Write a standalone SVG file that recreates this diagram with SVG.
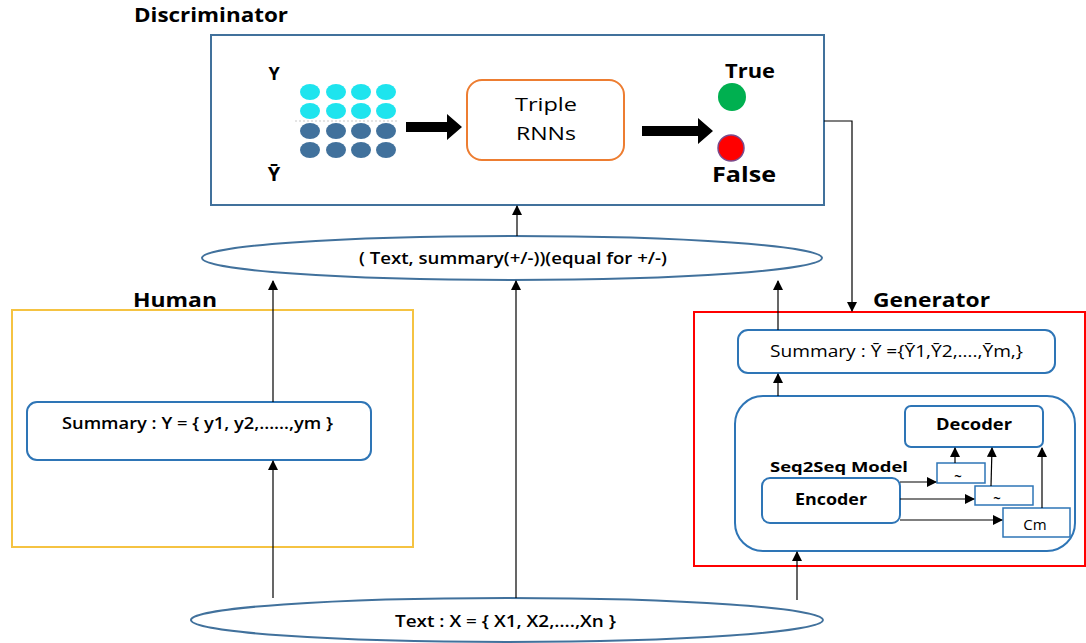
<svg xmlns="http://www.w3.org/2000/svg" width="1086" height="643" viewBox="0 0 1086 643">
<defs>
<style>
.t{font-family:"Open Sans","Liberation Sans",sans-serif;fill:#000}
.b{font-weight:bold}
.box{fill:#fff;stroke:#2E75B6;stroke-width:2}
.ln{stroke:#000;stroke-width:1.2;fill:none}
.cy{fill:#1EE4EE}
.db{fill:#41719C}
</style>
<marker id="ah" markerWidth="10" markerHeight="10" refX="9" refY="5" orient="auto" markerUnits="userSpaceOnUse">
<path d="M0,0 L10,5 L0,10 z" fill="#000"/>
</marker>
</defs>
<rect width="1086" height="643" fill="#fff"/>

<g id="discriminator">
<text class="t b" x="134" y="22" font-size="19" textLength="154" lengthAdjust="spacingAndGlyphs">Discriminator</text>
<rect x="211" y="35" width="613" height="170" fill="#fff" stroke="#41719C" stroke-width="2"/>
<text class="t b" x="274" y="80" font-size="18" text-anchor="middle">Y</text>
<text class="t b" x="274" y="181" font-size="20" text-anchor="middle">Ȳ</text>
<g>
<ellipse class="cy" cx="310" cy="92" rx="10" ry="8"/><ellipse class="cy" cx="336" cy="92" rx="10" ry="8"/><ellipse class="cy" cx="361" cy="92" rx="10" ry="8"/><ellipse class="cy" cx="386" cy="92" rx="10" ry="8"/>
<ellipse class="cy" cx="310" cy="111" rx="10" ry="8"/><ellipse class="cy" cx="336" cy="111" rx="10" ry="8"/><ellipse class="cy" cx="361" cy="111" rx="10" ry="8"/><ellipse class="cy" cx="386" cy="111" rx="10" ry="8"/>
<line x1="295" y1="121" x2="398" y2="121" stroke="#bbb" stroke-width="0.8" stroke-dasharray="2,2"/>
<ellipse class="db" cx="310" cy="131" rx="10" ry="8"/><ellipse class="db" cx="336" cy="131" rx="10" ry="8"/><ellipse class="db" cx="361" cy="131" rx="10" ry="8"/><ellipse class="db" cx="386" cy="131" rx="10" ry="8"/>
<ellipse class="db" cx="310" cy="150" rx="10" ry="8"/><ellipse class="db" cx="336" cy="150" rx="10" ry="8"/><ellipse class="db" cx="361" cy="150" rx="10" ry="8"/><ellipse class="db" cx="386" cy="150" rx="10" ry="8"/>
</g>
<path d="M406,122 L447,122 L447,114 L462,127 L447,140 L447,132 L406,132 z" fill="#000"/>
<path d="M642,126 L698,126 L698,118 L713,131 L698,144 L698,136 L642,136 z" fill="#000"/>
<text class="t b" x="750" y="78" font-size="19" text-anchor="middle" textLength="50" lengthAdjust="spacingAndGlyphs">True</text>
<circle cx="732" cy="97" r="14" fill="#00B050"/>
<circle cx="731" cy="148" r="13" fill="#FF0000" stroke="#7A4A8C" stroke-width="1.5"/>
<text class="t b" x="744" y="182" font-size="21" text-anchor="middle" textLength="64" lengthAdjust="spacingAndGlyphs">False</text>
</g>

<g id="triple-rnns">
<rect x="467" y="80" width="157" height="80" rx="15" fill="#fff" stroke="#ED7D31" stroke-width="2"/>
<text class="t" x="546" y="111" font-size="18" text-anchor="middle" textLength="62" lengthAdjust="spacingAndGlyphs">Triple</text>
<text class="t" x="546" y="140" font-size="18" text-anchor="middle" textLength="60" lengthAdjust="spacingAndGlyphs">RNNs</text>
</g>

<g id="pair-ellipse">
<ellipse cx="512" cy="258" rx="310" ry="22" fill="#fff" stroke="#41719C" stroke-width="2"/>
<text class="t" x="513" y="264" font-size="16" text-anchor="middle" font-weight="600" textLength="308" lengthAdjust="spacingAndGlyphs">( Text, summary(+/-))(equal for +/-)</text>
</g>

<g id="human">
<text class="t b" x="133" y="307" font-size="19" textLength="84" lengthAdjust="spacingAndGlyphs">Human</text>
<rect x="12" y="310" width="401" height="237" fill="none" stroke="#F5C342" stroke-width="2"/>
</g>

<g id="human-summary">
<rect class="box" x="27" y="402" width="344" height="58" rx="10"/>
<text class="t" x="62" y="429" font-size="16" font-weight="600" textLength="271" lengthAdjust="spacingAndGlyphs">Summary : Y = { y1, y2,……,ym }</text>
</g>

<g id="generator">
<text class="t b" x="873" y="307" font-size="19" textLength="117" lengthAdjust="spacingAndGlyphs">Generator</text>
<rect x="694" y="312" width="391" height="254" fill="none" stroke="#FF0000" stroke-width="2"/>
</g>

<g id="gen-summary">
<rect class="box" x="738" y="330" width="317" height="43" rx="10"/>
<text class="t" x="770" y="357" font-size="16" textLength="253" lengthAdjust="spacingAndGlyphs">Summary : Ȳ ={Ȳ1,Ȳ2,….,Ȳm,}</text>
</g>

<g id="seq2seq">
<rect class="box" x="735" y="396" width="340" height="155" rx="28"/>
<text class="t b" x="770" y="472" font-size="15" textLength="138" lengthAdjust="spacingAndGlyphs">Seq2Seq Model</text>
</g>

<g id="decoder">
<rect class="box" x="905" y="406" width="138" height="41" rx="6"/>
<text class="t b" x="974" y="430" font-size="16" text-anchor="middle" textLength="76" lengthAdjust="spacingAndGlyphs">Decoder</text>
</g>

<g id="encoder">
<rect class="box" x="762" y="478" width="138" height="45" rx="8"/>
<text class="t b" x="831" y="505" font-size="16" text-anchor="middle" textLength="72" lengthAdjust="spacingAndGlyphs">Encoder</text>
</g>

<g id="c1">
<rect x="937" y="463" width="48" height="20" fill="#fff" stroke="#2E75B6" stroke-width="1.5"/>
<text class="t b" x="958" y="481" font-size="13" text-anchor="middle">~</text>
</g>
<g id="c2">
<rect x="975" y="486" width="58" height="19" fill="#fff" stroke="#2E75B6" stroke-width="1.5"/>
<text class="t b" x="997" y="503" font-size="13" text-anchor="middle">~</text>
</g>
<g id="cm">
<rect x="1003" y="508" width="67" height="29" fill="#fff" stroke="#2E75B6" stroke-width="1.5"/>
<text class="t" x="1035" y="530" font-size="15" text-anchor="middle">Cm</text>
</g>

<g id="text-ellipse">
<ellipse cx="507" cy="620" rx="316" ry="22" fill="#fff" stroke="#41719C" stroke-width="2"/>
<text class="t" x="395" y="627" font-size="16" font-weight="600" textLength="221" lengthAdjust="spacingAndGlyphs">Text : X = { X1, X2,….,Xn }</text>
</g>

<g id="connectors">
<line class="ln" x1="517" y1="236" x2="517" y2="206" marker-end="url(#ah)"/>
<polyline class="ln" points="824,121 852,121 852,311" marker-end="url(#ah)"/>
<line class="ln" x1="273" y1="402" x2="273" y2="281" marker-end="url(#ah)"/>
<line class="ln" x1="273" y1="598" x2="273" y2="461" marker-end="url(#ah)"/>
<line class="ln" x1="516" y1="598" x2="516" y2="281" marker-end="url(#ah)"/>
<line class="ln" x1="778" y1="330" x2="778" y2="281" marker-end="url(#ah)"/>
<line class="ln" x1="797" y1="600" x2="797" y2="552" marker-end="url(#ah)"/>
<line class="ln" x1="778" y1="396" x2="778" y2="374" marker-end="url(#ah)"/>
<line class="ln" x1="900" y1="482" x2="936" y2="482" marker-end="url(#ah)"/>
<line class="ln" x1="900" y1="499" x2="974" y2="499" marker-end="url(#ah)"/>
<line class="ln" x1="900" y1="520" x2="1002" y2="520" marker-end="url(#ah)"/>
<line class="ln" x1="955" y1="463" x2="955" y2="448" marker-end="url(#ah)"/>
<line class="ln" x1="991" y1="486" x2="992" y2="448" marker-end="url(#ah)"/>
<line class="ln" x1="1042" y1="508" x2="1042" y2="448" marker-end="url(#ah)"/>
</g>
</svg>
